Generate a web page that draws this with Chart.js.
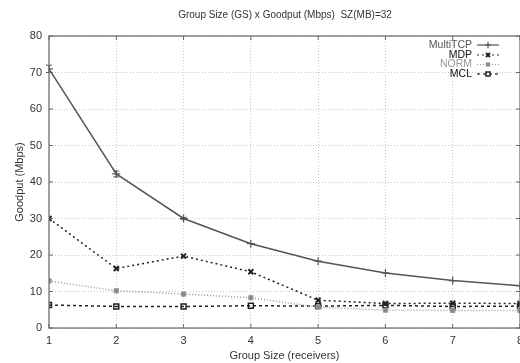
<!DOCTYPE html>
<html><head><meta charset="utf-8">
<script src="https://cdn.jsdelivr.net/npm/chart.js@4.4.1/dist/chart.umd.min.js"></script>
<style>html,body{margin:0;padding:0;background:#fff;overflow:hidden;width:520px;height:363px}#wrap{width:570px;height:363px}</style>
</head><body><div id="wrap"><canvas id="c" width="570" height="363"></canvas></div>
<script>
const titleText = "Group Size (GS) x Goodput (Mbps)  SZ(MB)=32";
const xTitle = "Group Size (receivers)";
const yTitle = "Goodput (Mbps)";
const groupSizes = [1, 2, 3, 4, 5, 6, 7, 8];
const seriesNames = ["MultiTCP", "MDP", "NORM", "MCL"];
const multiTCP = [71.0, 42.2, 30.0, 23.1, 18.3, 15.1, 13.0, 11.6];
const multiTCPErr = [1.0, 0.8, 0.3, 0, 0, 0, 0, 0];
const mdp = [30.0, 16.3, 19.7, 15.4, 7.6, 6.7, 6.8, 6.7];
const norm = [12.9, 10.2, 9.3, 8.3, 5.7, 4.9, 4.8, 4.8];
const mcl = [6.3, 5.9, 5.9, 6.1, 6.0, 6.2, 5.9, 6.0];
const yTicks = [0, 10, 20, 30, 40, 50, 60, 70, 80];

const FONT = "'Liberation Sans', Arial, sans-serif";
const toXY = arr => arr.map((v, i) => ({x: groupSizes[i], y: v}));

const styles = [
  {color: '#555', dash: [], point: 'cross', r: 4, pbw: 1.2, fill: '#555', text: '#555'},
  {color: '#222', dash: [2, 3], point: 'crossRot', r: 3.5, pbw: 2, fill: '#222', text: '#111'},
  {color: '#999', dash: [1, 2], point: 'rect', r: 3, pbw: 1, fill: '#888', text: '#999'},
  {color: '#222', dash: [3, 3], point: 'rect', r: 3.5, pbw: 1.5, fill: 'rgba(255,255,255,0)', text: '#111'}
];
const data = [multiTCP, mdp, norm, mcl];

const datasets = seriesNames.map((n, i) => ({
  label: n,
  data: toXY(data[i]),
  borderColor: styles[i].color,
  borderWidth: 1.5,
  borderDash: styles[i].dash,
  pointStyle: styles[i].point,
  pointRadius: styles[i].r,
  pointBorderWidth: styles[i].pbw,
  pointBorderColor: styles[i].color,
  pointBackgroundColor: styles[i].fill,
  tension: 0,
  fill: false
}));

const deco = {
  id: 'deco',
  afterDatasetsDraw(chart) {
    const ctx = chart.ctx;
    const xs = chart.scales.x, ys = chart.scales.y;
    ctx.save();
    ctx.strokeStyle = styles[0].color; ctx.lineWidth = 1;
    multiTCP.forEach((v, i) => {
      const e = multiTCPErr[i];
      if (!e) return;
      const x = xs.getPixelForValue(groupSizes[i]);
      const y0 = ys.getPixelForValue(v - e), y1 = ys.getPixelForValue(v + e);
      ctx.beginPath();
      ctx.moveTo(x, y0); ctx.lineTo(x, y1);
      ctx.moveTo(x - 3, y0); ctx.lineTo(x + 3, y0);
      ctx.moveTo(x - 3, y1); ctx.lineTo(x + 3, y1);
      ctx.stroke();
    });
    ctx.restore();
  },
  afterDraw(chart) {
    const ctx = chart.ctx, a = chart.chartArea;
    const xs = chart.scales.x, ys = chart.scales.y;
    ctx.save();
    ctx.strokeStyle = '#666'; ctx.lineWidth = 1.2; ctx.setLineDash([]);
    ctx.strokeRect(a.left, a.top, a.right - a.left, a.bottom - a.top);
    ctx.lineWidth = 1;
    yTicks.forEach(t => {
      const y = ys.getPixelForValue(t);
      ctx.beginPath(); ctx.moveTo(a.left, y); ctx.lineTo(a.left + 4, y); ctx.stroke();
      ctx.beginPath(); ctx.moveTo(a.right, y); ctx.lineTo(a.right - 4, y); ctx.stroke();
    });
    groupSizes.forEach(g => {
      const x = xs.getPixelForValue(g);
      ctx.beginPath(); ctx.moveTo(x, a.bottom); ctx.lineTo(x, a.bottom - 4); ctx.stroke();
      ctx.beginPath(); ctx.moveTo(x, a.top); ctx.lineTo(x, a.top + 4); ctx.stroke();
    });
    ctx.fillStyle = '#333';
    ctx.font = '10px ' + FONT;
    ctx.textAlign = 'center'; ctx.textBaseline = 'middle';
    ctx.fillText(titleText, 285, 15);
    const textRight = 472, lx0 = 477, lx1 = 499;
    const rowsY = [45, 55, 64.5, 74];
    seriesNames.forEach((n, i) => {
      const y = rowsY[i];
      ctx.font = '10.5px ' + FONT;
      ctx.textAlign = 'right'; ctx.textBaseline = 'middle';
      ctx.fillStyle = styles[i].text;
      ctx.fillText(n, textRight, y);
      ctx.strokeStyle = styles[i].color; ctx.lineWidth = 1.2;
      ctx.setLineDash(styles[i].dash);
      ctx.beginPath(); ctx.moveTo(lx0, y); ctx.lineTo(lx1, y); ctx.stroke();
      ctx.setLineDash([]);
      ctx.fillStyle = i === 3 ? '#fff' : styles[i].fill;
      ctx.strokeStyle = styles[i].color;
      ctx.lineWidth = styles[i].pbw;
      Chart.helpers.drawPoint(ctx, {pointStyle: styles[i].point, radius: styles[i].r * 0.8, borderWidth: styles[i].pbw}, (lx0 + lx1) / 2, y);
    });
    ctx.restore();
  }
};

new Chart(document.getElementById('c'), {
  type: 'line',
  data: {datasets},
  options: {
    responsive: false,
    animation: false,
    layout: {padding: {top: 36, right: 50, left: 13, bottom: 0}},
    plugins: {legend: {display: false}, title: {display: false}, tooltip: {enabled: false}},
    scales: {
      x: {
        type: 'linear', min: 1, max: 8,
        afterFit: s => { s.height = 35; },
        afterBuildTicks: s => { s.ticks = groupSizes.map(v => ({value: v})); },
        grid: {color: '#c8c8c8', lineWidth: 1, drawTicks: false},
        border: {display: false, dash: [1, 2]},
        ticks: {color: '#333', font: {size: 11, family: FONT}, padding: 6, maxRotation: 0},
        title: {display: true, text: xTitle, color: '#333', font: {size: 11, family: FONT}, padding: {top: 0, bottom: 0}}
      },
      y: {
        type: 'linear', min: 0, max: 80,
        afterFit: s => { s.width = 36; },
        afterBuildTicks: s => { s.ticks = yTicks.map(v => ({value: v})); },
        grid: {color: '#c8c8c8', lineWidth: 1, drawTicks: false},
        border: {display: false, dash: [1, 2]},
        ticks: {color: '#333', font: {size: 11, family: FONT}, padding: 7},
        title: {display: true, text: yTitle, color: '#333', font: {size: 11, family: FONT}, padding: {top: 0, bottom: 4}}
      }
    }
  },
  plugins: [deco]
});
</script></body></html>
